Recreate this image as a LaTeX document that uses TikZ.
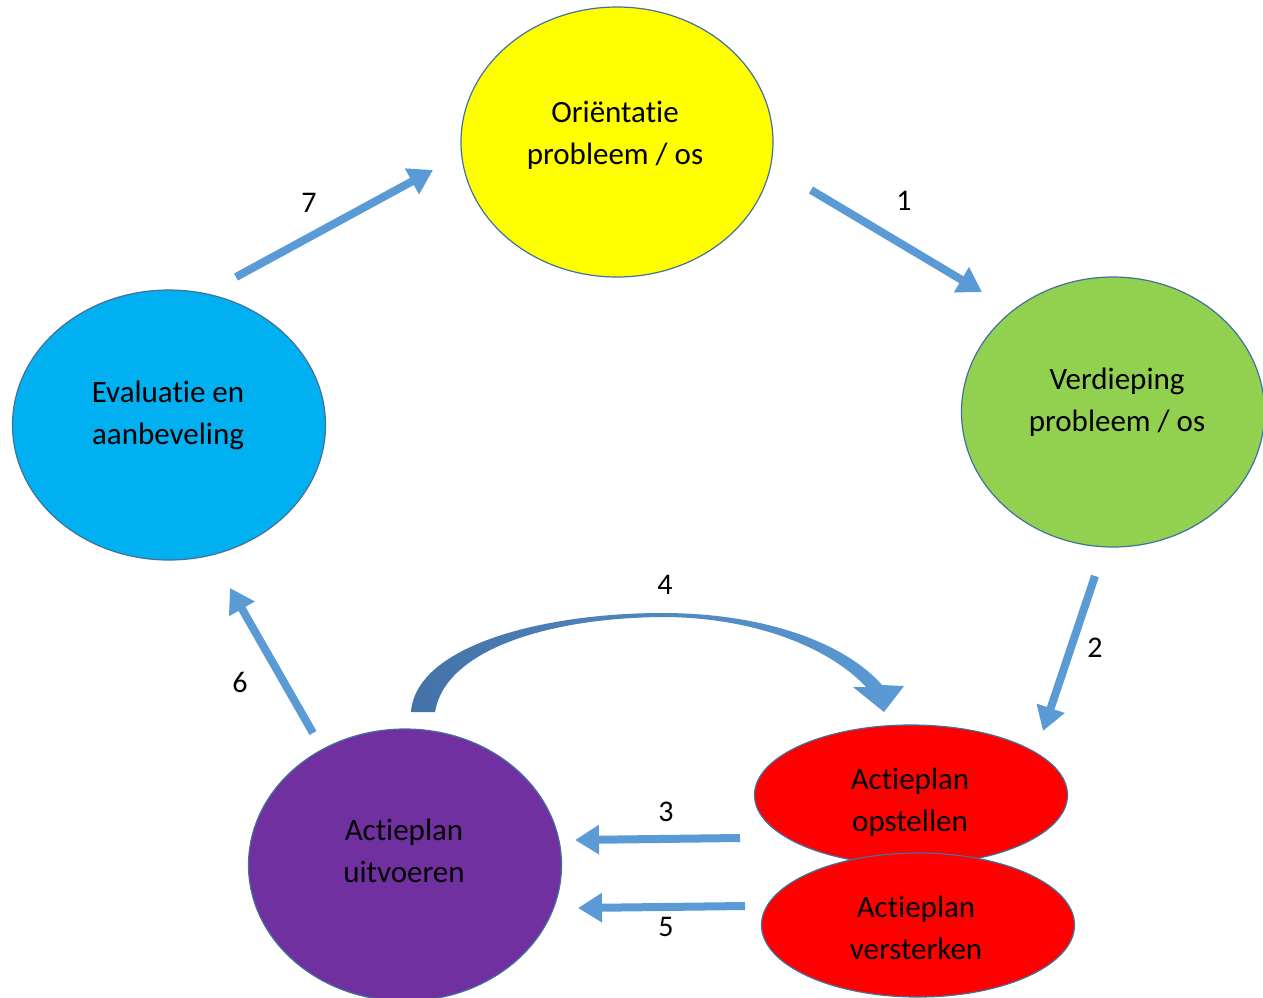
\documentclass[tikz,border=0pt]{standalone}
\usepackage{fontspec}
\setmainfont{Carlito}[Ligatures=NoCommon]
\usetikzlibrary{shapes.geometric,arrows.meta}
\definecolor{cyel}{HTML}{FFFF00}
\definecolor{cgrn}{HTML}{92D050}
\definecolor{cblu}{HTML}{00B0F0}
\definecolor{cpur}{HTML}{7030A0}
\definecolor{cred}{HTML}{FF0000}
\definecolor{cedge}{HTML}{41719C}
\definecolor{carrow}{HTML}{5B9BD5}
\definecolor{cdark}{HTML}{4472A8}
\tikzset{
  phase/.style={ellipse, draw=cedge, line width=1.2pt, inner sep=0pt},
  ptext/.style={align=center, font=\fontsize{31}{42}\selectfont, text=black, inner sep=0pt},
  flow/.style={draw=carrow, line width=8pt,
    -{Triangle[width=28pt,length=24pt]}},
  num/.style={font=\fontsize{30}{36}\selectfont, text=black, inner sep=0pt},
}
\begin{document}
\begin{tikzpicture}[x=1pt,y=-1pt]
\useasboundingbox (0,0) rectangle (1263,997);
\clip (0,0) rectangle (1263,997);
\fill[white] (0,0) rectangle (1263,997);
% ellipses
\node[phase, fill=cyel, minimum width=312pt, minimum height=270pt] (ori) at (617,142) {};
\node[phase, fill=cgrn, minimum width=303pt, minimum height=270pt] (ver) at (1113,412) {};
\node[phase, fill=cblu, minimum width=313pt, minimum height=270pt] (eva) at (169,425) {};
\node[phase, fill=cpur, minimum width=313pt, minimum height=272pt] (uit) at (405,865) {};
\node[phase, fill=cred, minimum width=313pt, minimum height=140pt] (ops) at (911,795) {};
\node[phase, fill=cred, minimum width=313pt, minimum height=144pt] (vst) at (918,925) {};
% texts
\node[ptext] (ori-t) at (615,135) {Oriëntatie\\probleem / os};
\node[ptext] (ver-t) at (1117,402) {Verdieping\\probleem / os};
\node[ptext] (eva-t) at (168,415.5) {Evaluatie en\\aanbeveling};
\node[ptext] (uit-t) at (404,850.5) {Actieplan\\uitvoeren};
\node[ptext] (ops-t) at (910,802) {Actieplan\\opstellen};
\node[ptext] (vst-t) at (916,927.5) {Actieplan\\versterken};
% connector ends
\coordinate (a1s) at (811,190); \coordinate (a1e) at (982,292);
\coordinate (a2s) at (1095,576); \coordinate (a2e) at (1043,731);
\coordinate (a3s) at (740,838); \coordinate (a3e) at (575,840);
\coordinate (a5s) at (745,906); \coordinate (a5e) at (578,908);
\coordinate (a6s) at (313,733); \coordinate (a6e) at (230,588);
\coordinate (a7s) at (236,277); \coordinate (a7e) at (433,170);
\draw[flow] (a1s) -- (a1e);
\draw[flow] (a2s) -- (a2e);
\draw[flow] (a3s) -- (a3e);
\draw[flow] (a5s) -- (a5e);
\draw[flow] (a6s) -- (a6e);
\draw[flow] (a7s) -- (a7e);
% curved block arrow 4
\shade[left color=cdark, right color=carrow]
  (411,712) .. controls (416,645) and (545,613) .. (662,613)
  .. controls (765,613) and (845,643) .. (882,685)
  -- (904,686) -- (884,712) -- (853,687) -- (866,687)
  .. controls (832,650) and (758,617) .. (662,617)
  .. controls (548,618) and (445,650) .. (435,712) -- cycle;
% labels
\node[num] (n1) at (904,201) {1};
\node[num] (n2) at (1095,648) {2};
\node[num] (n3) at (666,812) {3};
\node[num] (n4) at (665,585) {4};
\node[num] (n5) at (666,927) {5};
\node[num] (n6) at (240,682) {6};
\node[num] (n7) at (309,203) {7};
\end{tikzpicture}
\end{document}
